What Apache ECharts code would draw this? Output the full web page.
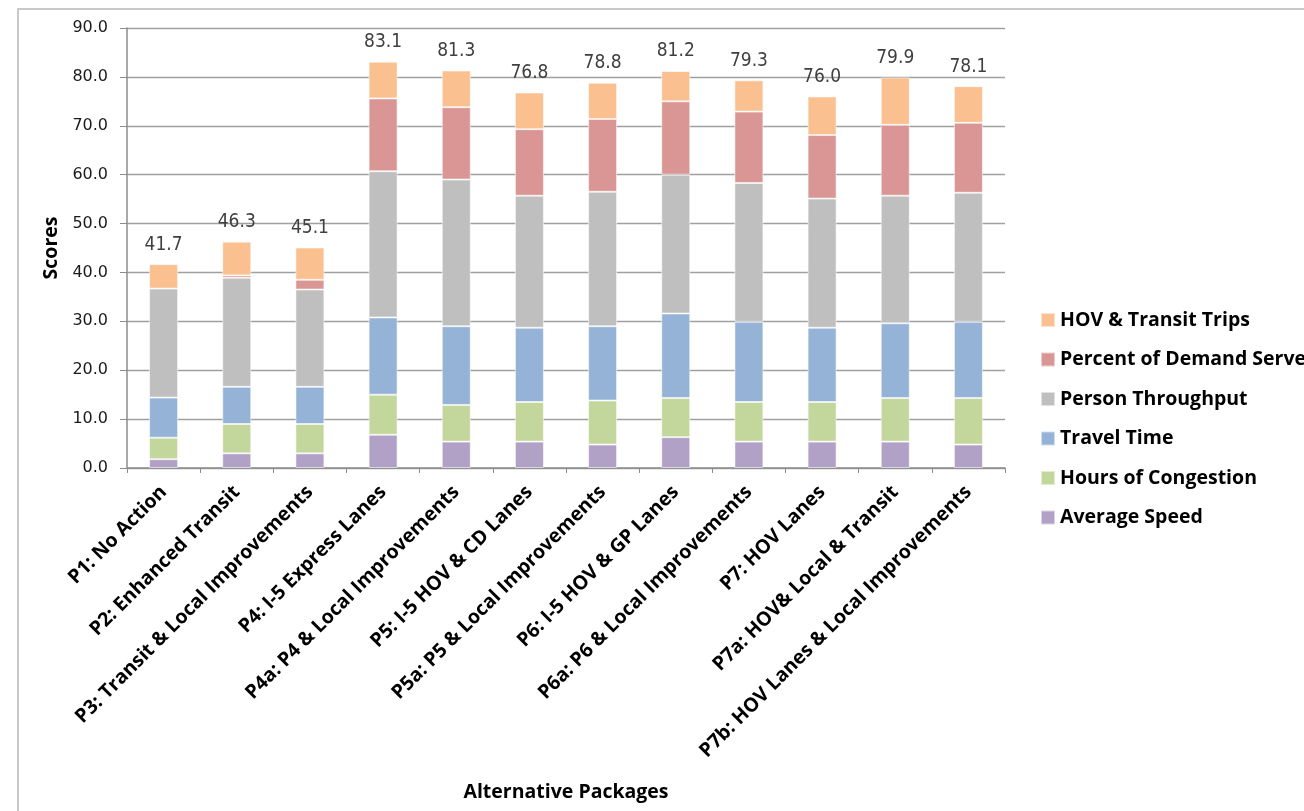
<!DOCTYPE html>
<html>
<head>
<meta charset="utf-8">
<script src="https://cdn.jsdelivr.net/npm/echarts@6/dist/echarts.min.js"></script>
<style>
html,body{margin:0;padding:0;background:#fff;}
#chart{width:1304px;height:811px;}
</style>
</head>
<body>
<div id="chart"></div>
<script>
var categories = ['P1: No Action','P2: Enhanced Transit','P3: Transit & Local Improvements','P4: I-5 Express Lanes','P4a: P4 & Local Improvements','P5: I-5 HOV & CD Lanes','P5a: P5 & Local Improvements','P6: I-5 HOV & GP Lanes','P6a: P6 & Local Improvements','P7: HOV Lanes','P7a: HOV& Local & Transit','P7b: HOV Lanes & Local Improvements'];
var averageSpeed      = [1.8, 3.0, 3.0, 6.8, 5.4, 5.4, 4.8, 6.3, 5.4, 5.4, 5.4, 4.8];
var hoursOfCongestion = [4.4, 6.0, 6.0, 8.2, 7.5, 8.1, 9.0, 8.0, 8.1, 8.1, 8.9, 9.5];
var travelTime        = [8.2, 7.6, 7.6, 15.8, 16.1, 15.2, 15.2, 17.3, 16.4, 15.2, 15.3, 15.6];
var personThroughput  = [22.3, 22.3, 19.9, 29.9, 30.0, 27.0, 27.5, 28.4, 28.4, 26.4, 26.1, 26.4];
var percentDemand     = [0.0, 0.5, 2.0, 14.9, 14.8, 13.6, 14.9, 15.0, 14.6, 13.0, 14.5, 14.3];
var hovTransitTrips   = [5.0, 6.9, 6.6, 7.5, 7.5, 7.5, 7.4, 6.2, 6.4, 7.9, 9.7, 7.5];
var totals            = [41.7, 46.3, 45.1, 83.1, 81.3, 76.8, 78.8, 81.2, 79.3, 76.0, 79.9, 78.1];
var yTicks = [0, 10, 20, 30, 40, 50, 60, 70, 80, 90];

var chart = echarts.init(document.getElementById('chart'));
var boldFont = "'Open Sans', Lato, sans-serif";
function mk(name, data, color, top) {
  var s = {
    name: name, type: 'bar', stack: 'total', data: data, barWidth: 29,
    itemStyle: { color: color, borderColor: 'rgba(255,255,255,0.55)', borderWidth: 1 },
    emphasis: { disabled: true }
  };
  if (top) {
    s.label = {
      show: true, position: 'top', distance: 10,
      formatter: function (p) { return totals[p.dataIndex].toFixed(1); },
      fontFamily: "'Liberation Sans Narrow', 'DejaVu Sans Condensed', sans-serif",
      fontSize: 19, color: '#404040'
    };
  }
  return s;
}
chart.setOption({
  animation: false,
  backgroundColor: '#fff',
  graphic: [{
    type: 'rect', shape: { x: 18, y: 9, width: 1400, height: 900 },
    style: { fill: 'none', stroke: '#b8b8b8', lineWidth: 1.5 }, silent: true
  }],
  grid: { left: 127, right: 299, top: 28, bottom: 343 },
  legend: {
    orient: 'vertical', left: 1035, top: 305,
    itemWidth: 14, itemHeight: 14, itemGap: 19.5,
    icon: 'rect',
    data: ['HOV & Transit Trips','Percent of Demand Served','Person Throughput','Travel Time','Hours of Congestion','Average Speed'],
    textStyle: { fontFamily: boldFont, fontWeight: 'bold', fontSize: 19.5, color: '#000', lineHeight: 14 }
  },
  xAxis: {
    type: 'category', data: categories,
    axisLine: { lineStyle: { color: '#8c8c8c', width: 1.5 } },
    axisTick: { show: true, length: 5, lineStyle: { color: '#8c8c8c' } },
    axisLabel: {
      rotate: 45, interval: 0, margin: 21,
      fontFamily: boldFont, fontWeight: 'bold', fontSize: 19.5, color: '#000'
    },
    name: 'Alternative Packages', nameLocation: 'middle', nameGap: 314,
    nameTextStyle: { fontFamily: boldFont, fontWeight: 'bold', fontSize: 19.5, color: '#000' }
  },
  yAxis: {
    type: 'value', min: yTicks[0], max: yTicks[yTicks.length - 1], interval: 10,
    axisLine: { show: true, lineStyle: { color: '#8c8c8c', width: 1.5 } },
    axisTick: { show: true, length: 7, inside: false, lineStyle: { color: '#8c8c8c' } },
    splitLine: { show: true, lineStyle: { color: '#a0a0a0', width: 1.3 } },
    axisLabel: {
      margin: 19, formatter: function (v) { return v.toFixed(1); },
      fontFamily: "'DejaVu Sans', sans-serif", fontSize: 16, color: '#1a1a1a'
    },
    name: 'Scores', nameLocation: 'middle', nameGap: 62, nameRotate: 90,
    nameTextStyle: { fontFamily: boldFont, fontWeight: 'bold', fontSize: 19.5, color: '#000' }
  },
  series: [
    mk('Average Speed', averageSpeed, '#B2A1C7'),
    mk('Hours of Congestion', hoursOfCongestion, '#C3D69B'),
    mk('Travel Time', travelTime, '#95B3D7'),
    mk('Person Throughput', personThroughput, '#BFBFBF'),
    mk('Percent of Demand Served', percentDemand, '#D99694'),
    mk('HOV & Transit Trips', hovTransitTrips, '#FAC090', true)
  ]
});
</script>
</body>
</html>
